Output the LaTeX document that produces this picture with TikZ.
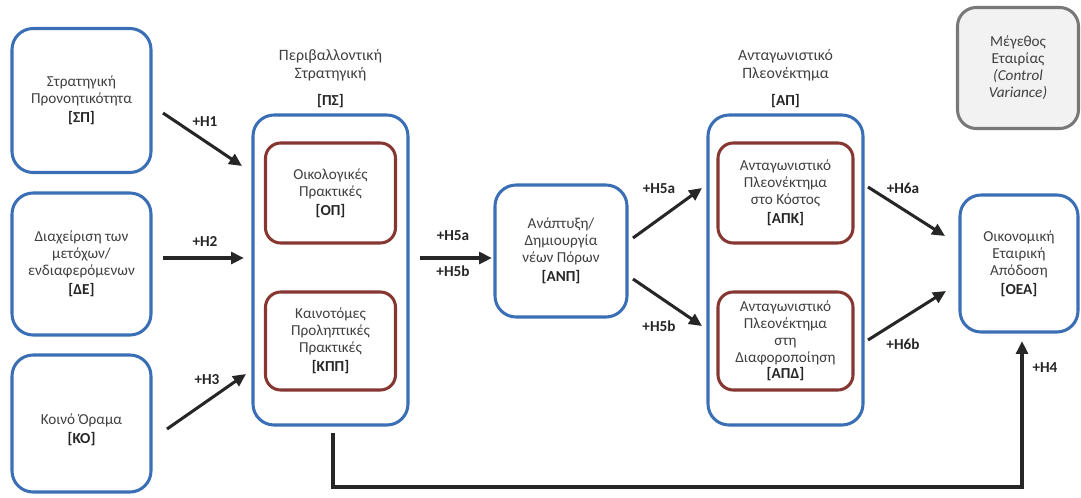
\documentclass[tikz,border=0pt]{standalone}
\usepackage{fontspec}
\setmainfont{Carlito}
\usetikzlibrary{arrows.meta}
\definecolor{bblue}{RGB}{58,110,181}
\definecolor{bred}{RGB}{135,55,50}
\definecolor{txt}{RGB}{64,64,64}
\definecolor{dark}{RGB}{38,38,38}
\definecolor{gbord}{RGB}{120,120,120}
\definecolor{gfill}{RGB}{242,242,242}
\newcommand{\pxu}{0.03cm}
\tikzset{
  outerbox/.style={draw=bblue, line width=2.6pt, rounded corners=18pt, fill=white, inner sep=0pt, align=center, text=txt,
     font=\fontsize{13}{14.5}\selectfont},
  innerbox/.style={draw=bred, line width=2.6pt, rounded corners=13pt, fill=white, inner sep=0pt, align=center, text=txt,
     font=\fontsize{13}{14.5}\selectfont},
  greybox/.style={draw=gbord, line width=2.6pt, rounded corners=16pt, fill=gfill, inner sep=0pt, align=center, text=txt,
     font=\fontsize{13}{14.5}\selectfont},
  plaintext/.style={inner sep=0pt, align=center, text=txt, font=\fontsize{13}{14.5}\selectfont},
  arr/.style={draw=dark, line width=2.6pt, -{Triangle[length=11pt,width=10pt]}},
  hlab/.style={font=\fontsize{13}{14}\selectfont\bfseries, text=dark, inner sep=0pt},
  title/.style={font=\fontsize{13.5}{15}\selectfont, text=txt, align=center, inner sep=0pt},
}
\newcommand{\cd}[1]{\\[1.5pt]{\bfseries\color{dark}#1}}
\begin{document}
\begin{tikzpicture}[x=0.03cm, y=-0.03cm]
\useasboundingbox (0,0) rectangle (1081,497);

% left boxes
\node[outerbox, minimum width=139*\pxu, minimum height=144*\pxu] (SP) at (81.5,100.5) {Στρατηγική\\Προνοητικότητα\cd{[ΣΠ]}};
\node[outerbox, minimum width=139*\pxu, minimum height=142*\pxu] (DE) at (81.5,264) {Διαχείριση των\\μετόχων/\\ενδιαφερόμενων\cd{[ΔΕ]}};
\node[outerbox, minimum width=139*\pxu, minimum height=137*\pxu] (KO) at (81.5,423.5) {};
\node[plaintext] (KOt) at (81.5,430) {Κοινό Όραμα\cd{[ΚΟ]}};

% PS group
\node[outerbox, minimum width=155*\pxu, minimum height=310*\pxu] (PS) at (330.5,270) {};
\node[innerbox, minimum width=130*\pxu, minimum height=100*\pxu] (OP) at (330.5,193) {Οικολογικές\\Πρακτικές\cd{[ΟΠ]}};
\node[innerbox, minimum width=130*\pxu, minimum height=98*\pxu] (KPP) at (330.5,341) {Καινοτόμες\\Προληπτικές\\Πρακτικές\cd{[ΚΠΠ]}};
\node[title] (PSt) at (330.5,65) {Περιβαλλοντική\\Στρατηγική};
\node[title, font=\fontsize{13}{15}\selectfont\bfseries, text=dark] (PSc) at (330.5,101) {[ΠΣ]};

% ANP
\node[outerbox, minimum width=132*\pxu, minimum height=132*\pxu] (ANP) at (561,251) {Ανάπτυξη/\\Δημιουργία\\νέων Πόρων\cd{[ΑΝΠ]}};

% AP group
\node[outerbox, minimum width=155*\pxu, minimum height=310*\pxu] (AP) at (785.5,270) {};
\node[innerbox, minimum width=135*\pxu, minimum height=100*\pxu] (APK) at (785.5,193) {Ανταγωνιστικό\\Πλεονέκτημα\\στο Κόστος\cd{[ΑΠΚ]}};
\node[innerbox, minimum width=135*\pxu, minimum height=98*\pxu] (APD) at (785.5,341) {Ανταγωνιστικό\\Πλεονέκτημα\\στη\\Διαφοροποίηση\\[-1pt]{\bfseries\color{dark}[ΑΠΔ]}};
\node[title] (APt) at (785.5,65) {Ανταγωνιστικό\\Πλεονέκτημα};
\node[title, font=\fontsize{13}{15}\selectfont\bfseries, text=dark] (APc) at (785.5,101) {[ΑΠ]};

% right boxes
\node[greybox, minimum width=121*\pxu, minimum height=121*\pxu] (SZ) at (1018,68) {Μέγεθος\\Εταιρίας\\{\itshape (Control}\\{\itshape Variance)}};
\node[outerbox, minimum width=118*\pxu, minimum height=137*\pxu] (OEA) at (1019,263.5) {Οικονομική\\Εταιρική\\Απόδοση\cd{[ΟΕΑ]}};

% arrow coordinates
\coordinate (h1a) at (163,113); \coordinate (h1b) at (242,166);
\coordinate (h2a) at (163,258); \coordinate (h2b) at (244,258);
\coordinate (h3a) at (167,429); \coordinate (h3b) at (246,374);
\coordinate (h5a) at (420,258); \coordinate (h5b) at (492,258);
\coordinate (h5ca) at (633,238); \coordinate (h5cb) at (702,188);
\coordinate (h5da) at (633,279); \coordinate (h5db) at (702,326);
\coordinate (h6aa) at (868,187); \coordinate (h6ab) at (945,236);
\coordinate (h6ba) at (868,340); \coordinate (h6bb) at (946,291);
\coordinate (h4a) at (333,433); \coordinate (h4b) at (1022,341);

\draw[arr] (h1a) -- (h1b);
\draw[arr] (h2a) -- (h2b);
\draw[arr] (h3a) -- (h3b);
\draw[arr] (h5a) -- (h5b);
\draw[arr] (h5ca) -- (h5cb);
\draw[arr] (h5da) -- (h5db);
\draw[arr] (h6aa) -- (h6ab);
\draw[arr] (h6ba) -- (h6bb);
\draw[arr] (h4a) -- ++(0,54) -| (h4b);

% labels
\node[hlab] (l1) at (205,122) {+H1};
\node[hlab] (l2) at (205,242) {+H2};
\node[hlab] (l3) at (207,380) {+H3};
\node[hlab] (l5a) at (453,236) {+H5a};
\node[hlab] (l5b) at (453,271) {+H5b};
\node[hlab] (l5c) at (659,189) {+H5a};
\node[hlab] (l5d) at (659,326) {+H5b};
\node[hlab] (l6a) at (903,188) {+H6a};
\node[hlab] (l6b) at (903,344) {+H6b};
\node[hlab] (l4) at (1045,368) {+H4};
\end{tikzpicture}
\end{document}
